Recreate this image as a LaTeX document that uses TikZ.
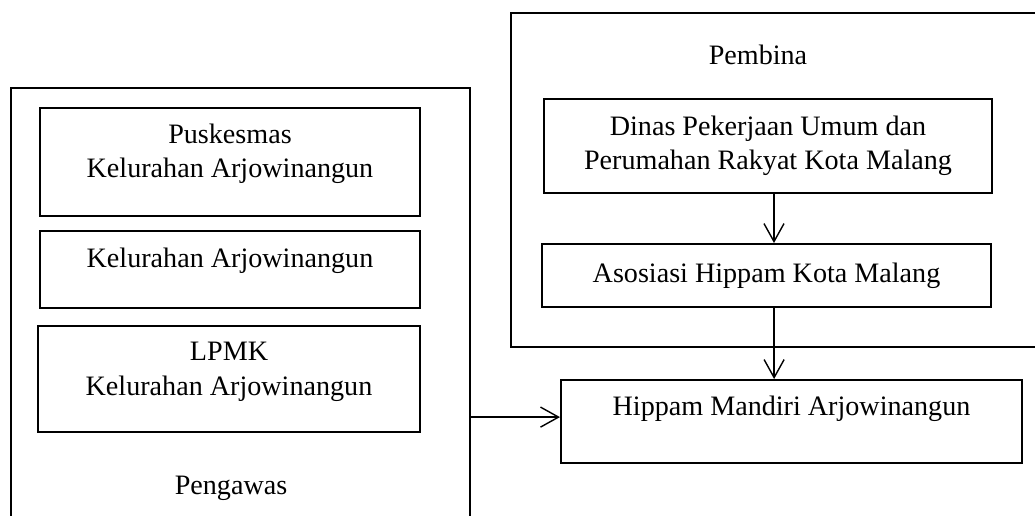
\documentclass[tikz,border=0pt]{standalone}
\usepackage{fontspec}
\setmainfont{Liberation Serif}
\usetikzlibrary{positioning, arrows.meta}
\tikzset{box/.style={draw, line width=1.4pt, inner sep=0pt},
         boxtext/.style={align=center, font=\fontsize{20}{24.5}\selectfont},
         link/.style={line width=1pt, -{Straight Barb[length=0.45cm,width=0.5cm,line width=1pt]}},
        }

\begin{document}
\begin{tikzpicture}[x=0.025cm, y=-0.025cm]
        \useasboundingbox (0,0) rectangle (1035,515);
        \clip (0,0) rectangle (1035,515);

        \node[box, minimum width=11.475cm, minimum height=11.8cm](pengawasbox)at(240.5,324){};
        \node[box, minimum width=9.5cm, minimum height=2.7cm,
              label={[boxtext, yshift=0.2cm]center:{Puskesmas\\Kelurahan Arjowinangun}}](pusk)at(230,162){};
        \node[box, minimum width=9.5cm, minimum height=1.925cm,
              label={[boxtext, yshift=0.23cm]center:Kelurahan Arjowinangun}](kel)at(230,269.5){};
        \node[box, minimum width=9.55cm, minimum height=2.65cm,
              label={[boxtext, yshift=0.18cm]center:{LPMK\\Kelurahan Arjowinangun}}](lpmk)at(229,379){};
        \node[boxtext](pengawas)at(231,488){Pengawas};

        \node[box, minimum width=13.725cm, minimum height=8.35cm](pembinabox)at(785.5,180){};
        \node[boxtext](pembina)at(758,55){Pembina};
        \node[box, minimum width=11.2cm, minimum height=2.35cm,
              label={[boxtext]center:{Dinas Pekerjaan Umum dan\\Perumahan Rakyat Kota Malang}}](dinas)at(768,146){};
        \node[box, minimum width=11.225cm, minimum height=1.575cm,
              label={[boxtext]center:Asosiasi Hippam Kota Malang}](asosiasi)at(766.5,275.5){};

        \node[box, minimum width=11.525cm, minimum height=2.075cm,
              label={[boxtext, yshift=0.33cm]center:Hippam Mandiri Arjowinangun}](hippam)at(791.5,421.5){};

        \draw[link]([xshift=0.15cm]dinas.south)--([xshift=0.15cm]dinas.south |- asosiasi.north);
        \draw[link]([xshift=0.19cm]asosiasi.south)--([xshift=0.19cm]asosiasi.south |- hippam.north);
        \draw[link]([yshift=0.11cm]hippam.west -| pengawasbox.east)--([yshift=0.11cm]hippam.west);
    \end{tikzpicture}
\end{document}
